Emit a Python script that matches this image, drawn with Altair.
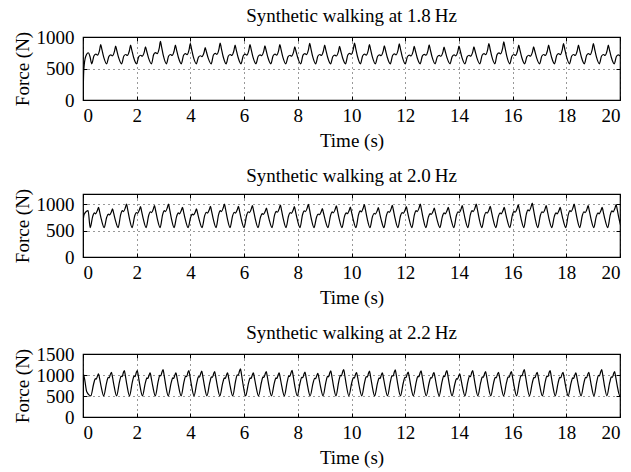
import altair as alt
import pandas as pd

FONT = "Liberation Serif"
FS = 19

x_ticks = [0, 2, 4, 6, 8, 10, 12, 14, 16, 18, 20]
titles = ["Synthetic walking at 1.8\u2009Hz", "Synthetic walking at 2.0\u2009Hz", "Synthetic walking at 2.2\u2009Hz"]
y_max = [1000, 1200, 1500]
y_ticks = [[0, 500, 1000], [0, 500, 1000], [0, 500, 1000, 1500]]

# ---- panel 1 (1.8 Hz) ----
p1_start_t = [0.0, 0.03, 0.10, 0.20, 0.26]
p1_start_f = [0, 480, 690, 750, 690]
p1_first_peak = 0.66
p1_period = 0.556
p1_valley = 575
p1_peaks = [880, 855, 870, 845, 930, 870, 896, 830, 905, 870, 880,
            860, 880, 845, 900, 870, 850, 905, 880, 860, 890, 850, 875,
            840, 855, 845, 896, 922, 870, 845, 870, 896, 870, 896, 870, 860]
p1_phase = [-0.60, -0.45, -0.32, -0.22, -0.08, 0.0, 0.07, 0.20]
p1_frac = [0.0, 0.42, 0.50, 0.45, 0.70, 1.0, 0.78, 0.35]

# ---- panel 2 (2.0 Hz) ----
p2_start_t = [0.0, 0.01, 0.05, 0.19]
p2_start_f = [0, 700, 820, 884]
p2_first_peak = 0.58
p2_period = 0.521
p2_valley = 560
p2_peaks = [947, 916, 1010, 960, 979, 1010, 947, 916, 966, 1010, 966, 979,
            930, 990, 960, 1005, 920, 975, 950, 1000, 940, 985, 960, 1010, 930,
            947, 979, 1010, 966, 947, 991, 1029, 979, 947, 1010, 979, 947, 1000, 960]
p2_phase = [-0.60, -0.42, -0.30, -0.22, -0.08, 0.0, 0.07, 0.20]
p2_frac = [0.0, 0.55, 0.72, 0.68, 0.85, 1.0, 0.80, 0.40]

# ---- panel 3 (2.2 Hz) ----
p3_start_t = [0.0, 0.02, 0.06, 0.14]
p3_start_f = [0, 1010, 900, 600]
p3_first_peak = 0.58
p3_period = 0.4805
p3_valley = 505
p3_peaks = [1026, 1066, 1105, 1105, 1050, 1129, 1050, 1105, 1090, 1082, 1050, 1145, 1050,
            1080, 1050, 1110, 1070, 1040, 1100, 1130, 1060, 1090, 1050, 1120, 1070, 1100, 1060,
            1105, 1026, 1105, 1082, 1066, 1082, 1129, 1066, 1105, 1066, 1050, 1066, 1129, 1082, 1070]
p3_phase = [-0.60, -0.38, -0.25, -0.18, -0.07, 0.0, 0.07, 0.20]
p3_frac = [0.0, 0.55, 0.78, 0.76, 0.93, 1.0, 0.82, 0.42]


def build(start_t, start_f, first_peak, period, valley, peaks, phase, frac):
    ts = list(start_t)
    fs = list(start_f)
    for k, pk in enumerate(peaks):
        tk = first_peak + k * period
        for ph, fr in zip(phase, frac):
            ts.append(tk + ph * period)
            fs.append(valley + fr * (pk - valley))
    return pd.DataFrame({"t": ts, "f": fs, "i": range(len(ts))})


dfs = [
    build(p1_start_t, p1_start_f, p1_first_peak, p1_period, p1_valley, p1_peaks, p1_phase, p1_frac),
    build(p2_start_t, p2_start_f, p2_first_peak, p2_period, p2_valley, p2_peaks, p2_phase, p2_frac),
    build(p3_start_t, p3_start_f, p3_first_peak, p3_period, p3_valley, p3_peaks, p3_phase, p3_frac),
]


def panel(df, title, ymax, yt):
    xs = alt.Scale(domain=[0, 20], nice=False, zero=False)
    ys = alt.Scale(domain=[0, ymax], nice=False)
    common = dict(labelFont=FONT, labelFontSize=FS, labelColor="black",
                  titleFont=FONT, titleFontSize=FS, titleColor="black",
                  titleFontWeight="normal", tickColor="black", tickSize=4,
                  offset=-4, domain=False, gridDash=[1, 4], gridColor="black",
                  gridOpacity=0.8, gridWidth=1)
    base = alt.Chart(df)
    line = base.mark_line(color="black", strokeWidth=1.2, clip=True, interpolate="monotone").encode(
        x=alt.X("t:Q", scale=xs, axis=alt.Axis(values=x_ticks, title="Time (s)", grid=True,
                                               format="d", labelPadding=6, titlePadding=6, **common)),
        y=alt.Y("f:Q", scale=ys, axis=alt.Axis(values=yt, title="Force (N)", grid=True,
                                               format="d", labelPadding=9, titlePadding=4, **common)),
        order="i:Q",
    )
    mirror = base.mark_line(opacity=0, clip=True).encode(
        x=alt.X("t:Q", scale=xs, axis=alt.Axis(orient="top", values=x_ticks, labels=False, title=None,
                                               grid=False, domain=False, tickSize=4, offset=-4,
                                               tickColor="black")),
        y=alt.Y("f:Q", scale=ys, axis=alt.Axis(orient="right", values=yt, labels=False, title=None,
                                               grid=False, domain=False, tickSize=4, offset=-4,
                                               tickColor="black")),
        order="i:Q",
    )
    return alt.layer(line, mirror).resolve_axis(x="independent", y="independent").properties(
        width=537, height=63,
        title=alt.TitleParams(title, font=FONT, fontSize=FS, fontWeight="normal", color="black",
                              anchor="middle", offset=2),
    )


chart = alt.vconcat(
    *[panel(dfs[i], titles[i], y_max[i], y_ticks[i]) for i in range(3)], spacing=15
).configure_view(stroke="black", strokeWidth=1.2).properties(
    padding={"left": 12, "top": 6, "right": 8, "bottom": 5},
    background="white",
)

chart.save("out.html", embed_options={"renderer": "svg", "actions": False})
